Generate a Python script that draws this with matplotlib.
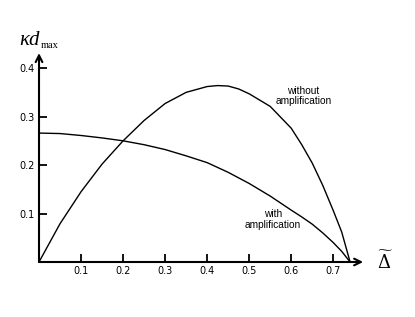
import numpy as np
import matplotlib.pyplot as plt

# curva sem amplificação
delta_sem = [0, 0.05, 0.1, 0.15, 0.2, 0.25, 0.3, 0.35, 0.4, 0.425, 0.45, 0.475, 0.5,
             0.55, 0.6, 0.625, 0.65, 0.675, 0.7, 0.72, 0.74]
kd_sem = [0, 0.079, 0.145, 0.202, 0.25, 0.292, 0.327, 0.350, 0.362, 0.364, 0.363, 0.357, 0.347,
          0.321, 0.276, 0.242, 0.204, 0.158, 0.106, 0.062, 0]

# curva com amplificação
delta_com = [0, 0.05, 0.1, 0.15, 0.2, 0.25, 0.3, 0.35, 0.4, 0.45, 0.5, 0.55, 0.6,
             0.625, 0.65, 0.675, 0.7, 0.72, 0.74]
kd_com = [0.266, 0.265, 0.261, 0.256, 0.250, 0.242, 0.232, 0.219, 0.205, 0.185, 0.162, 0.136, 0.107,
          0.093, 0.078, 0.060, 0.040, 0.022, 0]

xticks = [0.1, 0.2, 0.3, 0.4, 0.5, 0.6, 0.7]
yticks = [0.1, 0.2, 0.3, 0.4]

fig = plt.figure(figsize=(4.15, 3.17), dpi=100)
ax = fig.add_axes([0.094, 0.1735, 0.781, 0.659])

ax.plot(delta_sem, kd_sem, color="black", linewidth=1)
ax.plot(delta_com, kd_com, color="black", linewidth=1)

ax.set_xlim(0, 0.771)
ax.set_ylim(0, 0.431)

for s in ["top", "right", "left", "bottom"]:
    ax.spines[s].set_visible(False)

# eixos com setas
ax.annotate("", xy=(1, 0), xytext=(0, 0), xycoords="axes fraction",
            arrowprops=dict(arrowstyle="->", color="black", lw=1.5,
                            shrinkA=0, shrinkB=0, mutation_scale=12))
ax.annotate("", xy=(0, 1), xytext=(0, 0), xycoords="axes fraction",
            arrowprops=dict(arrowstyle="->", color="black", lw=1.5,
                            shrinkA=0, shrinkB=0, mutation_scale=12))

ax.set_xticks(xticks)
ax.set_yticks(yticks)
ax.set_xticklabels([str(t) for t in xticks])
ax.set_yticklabels([str(t) for t in yticks])
ax.tick_params(direction="in", length=6, width=1.3, labelsize=7, pad=3)

ax.text(0.629, 0.343, "without\namplification", ha="center", va="center",
        fontsize=7.3, family="Liberation Sans", linespacing=1.05)
ax.text(0.557, 0.088, "with\namplification", ha="center", va="center",
        fontsize=7.3, family="Liberation Sans", linespacing=1.05)

# rótulos dos eixos
fig.text(0.046, 0.872, "κd", fontsize=15, ha="left", va="center",
         family="Liberation Serif", style="italic")
fig.text(0.099, 0.855, "max", fontsize=7.5, ha="left", va="center",
         family="Liberation Serif")
fig.text(0.928, 0.175, r"$\widetilde{\Delta}$", fontsize=13, ha="center",
         va="center", math_fontfamily="dejavuserif")

fig.savefig("out.png", dpi=100)
